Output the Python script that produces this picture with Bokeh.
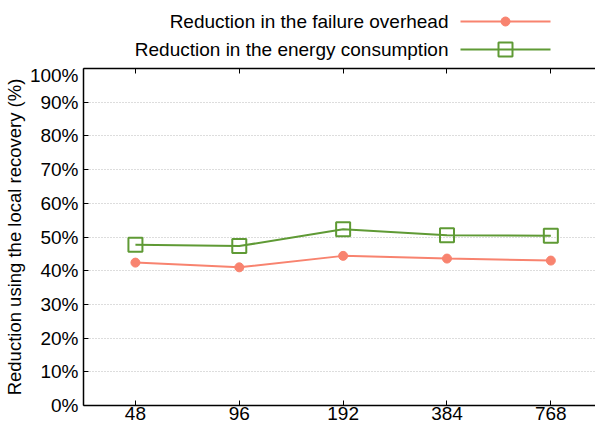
from bokeh.plotting import figure
from bokeh.layouts import column
from bokeh.models import Range1d, FixedTicker, LinearAxis, ColumnDataSource
from bokeh.core.properties import value
from bokeh.embed import file_html
from bokeh.resources import INLINE

# ---- data ----
cores = ["48", "96", "192", "384", "768"]
failure_overhead = [42.4, 41.0, 44.4, 43.6, 43.0]
energy_consumption = [47.7, 47.3, 52.3, 50.5, 50.4]
y_ticks = [0, 10, 20, 30, 40, 50, 60, 70, 80, 90, 100]
y_tick_labels = [f"{t}%" for t in y_ticks]
series_names = ["Reduction in the failure overhead", "Reduction in the energy consumption"]

RED = "#f8836f"
GREEN = "#5f9a35"
FONT = "Liberation Sans"

LEFT = 74      # left border (axis area)
FW = 512       # frame width
LEG_H = 64
FH = 337

# ---- legend figure (gnuplot style: text, then sample) ----
# x coordinates measured in page pixels; frame starts at page x = 82
leg = figure(frame_width=FW, frame_height=LEG_H, x_range=Range1d(82, 82 + FW),
             y_range=Range1d(LEG_H, 0),
             toolbar_location=None, output_backend="svg",
             min_border_left=LEFT, min_border_right=0, min_border_top=0, min_border_bottom=0,
             outline_line_color=None)
leg.axis.visible = False
leg.grid.visible = False
rows_y = [21, 49]
leg.text(x=[447, 447], y=rows_y, text=series_names, text_align="right",
         text_baseline="middle", text_font=value(FONT), text_font_size="19px", text_color="black")
leg.segment(x0=[459], y0=[rows_y[0]], x1=[549], y1=[rows_y[0]], line_color=RED, line_width=2)
leg.scatter(x=[504], y=[rows_y[0]], size=9, marker="circle", fill_color=RED, line_color=RED)
leg.segment(x0=[459], y0=[rows_y[1]], x1=[549], y1=[rows_y[1]], line_color=GREEN, line_width=2)
leg.scatter(x=[504], y=[rows_y[1]], size=14, marker="square", fill_color=None,
            line_color=GREEN, line_width=2)

# ---- main figure ----
xs = list(range(len(cores)))
src = ColumnDataSource(dict(x=xs, f=failure_overhead, e=energy_consumption))

p = figure(frame_width=FW, frame_height=FH, x_range=Range1d(-0.5, 4.43), y_range=Range1d(0, 100),
           toolbar_location=None, output_backend="svg",
           min_border_left=LEFT, min_border_right=0, min_border_top=4, min_border_bottom=20,
           outline_line_color=None)

p.line("x", "f", source=src, line_color=RED, line_width=2)
p.scatter("x", "f", source=src, size=9, marker="circle", fill_color=RED, line_color=RED)
p.line("x", "e", source=src, line_color=GREEN, line_width=2)
p.scatter("x", "e", source=src, size=14, marker="square", fill_color=None,
          line_color=GREEN, line_width=2)

# axes
xa = p.xaxis[0]
xa.ticker = FixedTicker(ticks=xs)
xa.major_label_overrides = {i: c for i, c in zip(xs, cores)}
ya = p.yaxis[0]
ya.ticker = FixedTicker(ticks=y_ticks)
ya.major_label_overrides = {t: l for t, l in zip(y_ticks, y_tick_labels)}
ya.axis_label = "Reduction using the local recovery (%)"

for ax in (xa, ya):
    ax.major_tick_in = 5
    ax.major_tick_out = 0
    ax.minor_tick_line_color = None
    ax.axis_line_color = "black"
    ax.axis_line_width = 1.5
    ax.major_tick_line_color = "black"
    ax.major_label_text_font = FONT
    ax.major_label_text_font_size = "19px"
    ax.major_label_text_color = "black"
    ax.axis_label_text_font = FONT
    ax.axis_label_text_font_size = "18.5px"
    ax.axis_label_text_font_style = "normal"
    ax.axis_label_text_color = "black"
xa.major_label_standoff = 1
ya.major_label_standoff = 5
ya.axis_label_standoff = 2

top = LinearAxis(ticker=FixedTicker(ticks=xs),
                 major_label_overrides={i: "" for i in xs},
                 major_tick_in=5, major_tick_out=0, minor_tick_line_color=None,
                 axis_line_color="black", axis_line_width=1.5,
                 major_label_standoff=0, major_label_text_font_size="1px")
p.add_layout(top, "above")

p.xgrid.visible = False
p.ygrid.grid_line_color = "#bbbbbb"
p.ygrid.grid_line_dash = "1 2"
p.ygrid.grid_line_width = 1

layout = column(leg, p, spacing=0)
open("out.html", "w").write(file_html(layout, INLINE))
